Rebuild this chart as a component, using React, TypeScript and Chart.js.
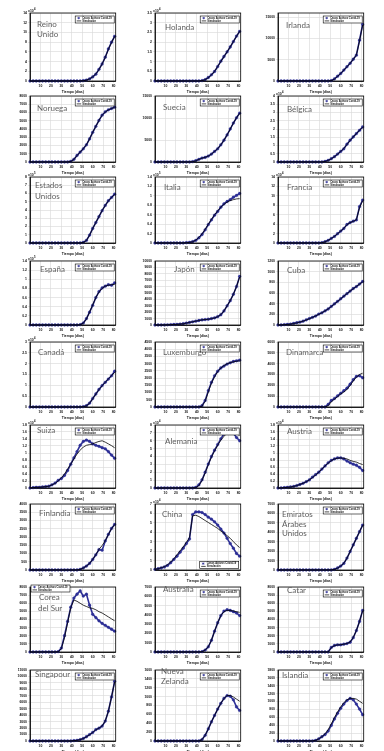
import React, { useEffect, useRef } from "react";
import { Chart, registerables } from "chart.js";
Chart.register(...registerables);

// ---------- data (days and values) ----------
const DAYS = [0, 3, 6, 9, 12, 15, 18, 21, 24, 27, 30, 33, 36, 39, 42, 45, 48, 51, 54, 57, 60, 63, 66, 69, 72, 75, 78, 81];
const X_TICKS = [10, 20, 30, 40, 50, 60, 70, 80];

const ukObs = [0,0,0,0,0,0,0,0,0,0,0,0,0,0,0,0,0, 0.07,0.2,0.42,0.84,1.4,2.4,3.5,4.9,6.6,8.0,9.2];
const ukSim = [0,0,0,0,0,0,0,0,0,0,0,0,0,0,0,0,0, 0.06,0.19,0.45,0.86,1.45,2.35,3.5,4.85,6.5,7.9,9.2];
const nlObs = [0,0,0,0,0,0,0,0,0,0,0,0,0,0,0, 0.02,0.07,0.18,0.32,0.49,0.74,1.02,1.26,1.5,1.75,2.03,2.31,2.55];
const nlSim = [0,0,0,0,0,0,0,0,0,0,0,0,0,0,0, 0.02,0.07,0.17,0.31,0.5,0.75,1.0,1.25,1.5,1.76,2.03,2.3,2.56];
const ieObs = [0,0,0,0,0,0,0,0,0,0,0,0,0,0,0,0,0, 80,480,1120,1760,2560,3360,4160,5120,6080,9600,13300];
const ieSim = [0,0,0,0,0,0,0,0,0,0,0,0,0,0,0,0,0, 70,450,1100,1750,2550,3350,4150,5100,6100,9400,13200];
const noObs = [0,0,0,0,0,0,0,0,0,0,0,0,0, 80,320,800,1200,1600,2080,2800,3600,4320,5040,5680,6080,6320,6480,6640];
const noSim = [0,0,0,0,0,0,0,0,0,0,0,0,0, 70,300,780,1200,1620,2100,2800,3600,4330,5040,5660,6060,6320,6480,6640];
const seObs = [0,0,0,0,0,0,0,0,0,0,0,0, 75,300,600,900,1050,1350,1800,2400,3000,3900,4950,6150,7500,8850,10050,11100];
const seSim = [0,0,0,0,0,0,0,0,0,0,0,0, 70,280,580,880,1060,1360,1800,2400,3020,3900,4950,6150,7480,8850,10050,11100];
const beObs = [0,0,0,0,0,0,0,0,0,0,0,0,0,0,0, 0.04,0.1,0.2,0.32,0.48,0.64,0.8,1.08,1.32,1.52,1.72,1.92,2.12];
const beSim = [0,0,0,0,0,0,0,0,0,0,0,0,0,0,0, 0.03,0.1,0.19,0.32,0.47,0.64,0.82,1.06,1.3,1.52,1.72,1.92,2.12];
const usObs = [0,0,0,0,0,0,0,0,0,0,0,0,0,0,0,0,0, 0.08,0.32,0.96,1.76,2.48,3.2,3.92,4.56,5.12,5.52,5.92];
const usSim = [0,0,0,0,0,0,0,0,0,0,0,0,0,0,0,0,0, 0.07,0.3,0.95,1.75,2.5,3.22,3.92,4.55,5.1,5.52,5.9];
const itObs = [0,0,0,0,0,0,0,0,0,0, 0.007,0.014,0.028,0.056,0.11,0.18,0.28,0.39,0.49,0.59,0.67,0.76,0.83,0.88,0.92,0.97,1.01,1.05];
const itSim = [0,0,0,0,0,0,0,0,0,0, 0.006,0.013,0.027,0.06,0.12,0.19,0.29,0.4,0.5,0.6,0.68,0.76,0.82,0.87,0.9,0.92,0.935,0.94];
const frObs = [0,0,0,0,0,0,0,0,0,0,0,0,0,0, 0.07,0.28,0.56,0.98,1.4,1.96,2.52,3.08,3.92,4.34,4.62,4.9,7.7,9.1];
const frSim = [0,0,0,0,0,0,0,0,0,0,0,0,0,0, 0.06,0.27,0.55,0.97,1.4,1.96,2.52,3.1,3.9,4.3,4.6,4.92,7.5,9.0];
const esObs = [0,0,0,0,0,0,0,0,0,0,0,0,0,0,0,0, 0.007,0.042,0.14,0.28,0.43,0.6,0.73,0.81,0.85,0.88,0.87,0.92];
const esSim = [0,0,0,0,0,0,0,0,0,0,0,0,0,0,0,0, 0.006,0.04,0.13,0.28,0.44,0.6,0.72,0.8,0.85,0.87,0.88,0.89];
const jpObs = [0,0,0,0,30,50,80,100,150,200,300,400,500,600,700,800,850,900,1000,1100,1300,1600,2200,3000,3800,4800,6000,7600];
const jpSim = [0,0,0,0,30,50,80,100,150,200,300,400,500,600,700,800,850,900,1000,1100,1300,1600,2200,3000,3800,4800,6000,7500];
const cuObs = [0,0,6,12,18,30,42,54,72,96,120,144,168,204,228,264,300,348,396,444,492,540,588,636,684,720,768,816];
const cuSim = [0,0,5,10,17,28,40,54,72,94,118,142,170,200,230,264,302,346,394,442,490,540,588,634,680,724,766,808];
const caObs = [0,0,0,0,0,0,0,0,0,0,0,0,0,0,0,0,0, 0.015,0.06,0.18,0.39,0.6,0.81,0.99,1.14,1.29,1.44,1.65];
const caSim = [0,0,0,0,0,0,0,0,0,0,0,0,0,0,0,0,0, 0.012,0.055,0.17,0.38,0.6,0.8,0.98,1.14,1.3,1.45,1.6];
const luObs = [0,0,0,0,0,0,0,0,0,0,0,0,0,0,0, 90,450,1125,1710,2160,2475,2700,2835,2970,3060,3150,3195,3240];
const luSim = [0,0,0,0,0,0,0,0,0,0,0,0,0,0,0, 60,400,1050,1650,2100,2450,2700,2870,2990,3070,3130,3170,3200];
const dkObs = [0,0,0,0,0,0,0,0,0,0,0,0,0,0,0,0, 240,600,780,1020,1260,1500,1740,2100,2520,2820,2880,2700];
const dkSim = [0,0,0,0,0,0,0,0,0,0,0,0,0,0,0,0, 120,480,720,960,1200,1380,1620,1980,2400,2760,3000,3120];
const chObs = [0,0.01,0.02,0.02,0.03,0.04,0.05,0.09,0.14,0.22,0.27,0.36,0.5,0.68,0.86,1.04,1.22,1.33,1.37,1.33,1.26,1.22,1.19,1.15,1.12,1.04,0.94,0.85];
const chSim = [0,0.01,0.02,0.02,0.03,0.04,0.05,0.09,0.13,0.2,0.29,0.4,0.54,0.68,0.83,0.97,1.08,1.17,1.22,1.24,1.26,1.3,1.33,1.35,1.31,1.26,1.21,1.15];
const deObs = [0,0,0,0,0,0,0,0,0,0,0,0,0, 0.08,0.4,1.04,2.0,3.04,4.0,4.8,5.52,6.24,6.88,7.28,7.2,6.96,6.4,6.0];
const deSim = [0,0,0,0,0,0,0,0,0,0,0,0,0, 0.04,0.32,0.96,1.92,2.96,3.92,4.72,5.44,6.08,6.56,6.96,7.2,7.2,6.96,6.64];
const atObs = [0,0,0.01,0.02,0.03,0.045,0.07,0.1,0.135,0.18,0.23,0.31,0.38,0.45,0.54,0.63,0.72,0.79,0.83,0.86,0.86,0.83,0.77,0.72,0.68,0.65,0.59,0.5];
const atSim = [0,0,0.01,0.02,0.03,0.045,0.07,0.1,0.135,0.18,0.23,0.3,0.37,0.45,0.54,0.63,0.71,0.78,0.83,0.85,0.86,0.85,0.83,0.79,0.76,0.74,0.7,0.67];
const fiObs = [0,0,0,0,0,0,0,0,0,0,0,0,0,0,0,0, 40,120,240,400,640,920,1240,1200,1760,2160,2520,2760];
const fiSim = [0,0,0,0,0,0,0,0,0,0,0,0,0,0,0,0, 40,120,240,400,640,930,1250,1480,1770,2150,2500,2760];
const cnObs = [0.07,0.14,0.21,0.32,0.49,0.77,1.12,1.47,1.89,2.31,2.8,3.29,5.88,6.16,6.16,6.09,5.88,5.6,5.39,5.11,4.76,4.34,3.92,3.36,2.8,2.31,1.75,1.47];
const cnSim = [0.07,0.14,0.25,0.35,0.56,0.84,1.19,1.61,2.03,2.45,2.94,3.43,5.74,5.81,5.67,5.46,5.25,5.04,4.83,4.62,4.41,4.13,3.92,3.64,3.36,3.01,2.66,2.38];
const aeObs = [0,0,0,0,0,0,0,0,0,0,0,0,0,0,0,0,0,0, 70,210,420,700,1260,1960,2660,3360,4060,4760];
const aeSim = [0,0,0,0,0,0,0,0,0,0,0,0,0,0,0,0,0,0, 60,200,420,720,1250,1950,2650,3360,4060,4750];
const krObs = [0,0,0,0,0,0,0,0,0, 40,480,2000,3760,5520,6640,7120,7520,6880,7120,5760,4640,4240,3840,3520,3280,3040,2800,2560];
const krSim = [0,0,0,0,0,0,0,0,0, 40,400,1760,3600,5440,6400,6240,6000,5760,5600,5440,5360,5200,4960,4800,4560,4320,4080,3840];
const auObs = [0,0,0,0,0,0,0,0,0,0,0,0,0,0,0, 35,210,560,1260,2240,3150,3920,4410,4550,4480,4340,4200,3920];
const auSim = [0,0,0,0,0,0,0,0,0,0,0,0,0,0,0, 35,210,560,1260,2240,3150,3920,4340,4480,4480,4410,4340,4270];
const qaObs = [0,0,0,0,0,0,0,0,0,0,0,0,0,0,0,0,0, 560,800,880,880,960,1040,1200,1760,2640,3760,5120];
const qaSim = [0,0,0,0,0,0,0,0,0,0,0,0,0,0,0,0,0, 540,790,870,890,960,1050,1220,1780,2650,3760,5100];
const sgObs = [0,0,0,0,0,0,0,0,0,0,0,0,0,0, 55,110,220,385,660,990,1320,1760,1980,2310,3080,4620,6820,9240];
const sgSim = [0,0,0,0,0,0,0,0,0,0,0,0,0,0, 50,110,220,380,650,980,1320,1740,2000,2330,3100,4600,6800,9200];
const nzObs = [0,0,0,0,0,0,0,0,0,0,0,0,0,0,0, 32,128,272,432,576,720,848,960,1024,1008,928,768,688];
const nzSim = [0,0,0,0,0,0,0,0,0,0,0,0,0,0,0, 32,128,272,432,576,720,848,960,1024,1024,992,944,896];
const isObs = [0,0,0,0,0,0,0,0,0,0,0,0, 18,54,108,162,252,396,558,702,828,936,1026,1080,1044,936,810,666];
const isSim = [0,0,0,0,0,0,0,0,0,0,0,0, 18,54,108,180,288,432,594,738,864,972,1044,1080,1080,1062,1008,954];

// ---------- panel setup ----------
type NameLine = [string, number, number];
type PanelCfg = { name: NameLine[]; obs: number[]; sim: number[]; yMax: number; yStep: number; exp?: string; leg: "tr" | "tl" | "br" };

const PANELS: PanelCfg[] = [
  { name: [["Reino", 7, 11], ["Unido", 7, 21]], obs: ukObs, sim: ukSim, yMax: 14, yStep: 2, exp: "4", leg: "tr" },
  { name: [["Holanda", 10, 14]], obs: nlObs, sim: nlSim, yMax: 3.5, yStep: 0.5, exp: "4", leg: "tr" },
  { name: [["Irlanda", 8, 12]], obs: ieObs, sim: ieSim, yMax: 16000, yStep: 5000, leg: "tr" },
  { name: [["Noruega", 7, 12]], obs: noObs, sim: noSim, yMax: 8000, yStep: 1000, leg: "tr" },
  { name: [["Suecia", 8, 11]], obs: seObs, sim: seSim, yMax: 15000, yStep: 5000, leg: "tr" },
  { name: [["Bélgica", 9, 13]], obs: beObs, sim: beSim, yMax: 4, yStep: 0.5, exp: "4", leg: "tr" },
  { name: [["Estados", 5, 8], ["Unidos", 5, 19]], obs: usObs, sim: usSim, yMax: 8, yStep: 1, exp: "5", leg: "tr" },
  { name: [["Italia", 9, 10]], obs: itObs, sim: itSim, yMax: 1.4, yStep: 0.2, exp: "5", leg: "tr" },
  { name: [["Francia", 9, 10]], obs: frObs, sim: frSim, yMax: 14, yStep: 2, exp: "4", leg: "tr" },
  { name: [["España", 10, 8]], obs: esObs, sim: esSim, yMax: 1.4, yStep: 0.2, exp: "5", leg: "tr" },
  { name: [["Japón", 19, 8]], obs: jpObs, sim: jpSim, yMax: 10000, yStep: 1000, leg: "tr" },
  { name: [["Cuba", 9, 9]], obs: cuObs, sim: cuSim, yMax: 1200, yStep: 200, leg: "tr" },
  { name: [["Canadá", 8, 10]], obs: caObs, sim: caSim, yMax: 3, yStep: 0.5, exp: "4", leg: "tr" },
  { name: [["Luxemburgo", 8, 10]], obs: luObs, sim: luSim, yMax: 4500, yStep: 500, leg: "tr" },
  { name: [["Dinamarca", 8, 10]], obs: dkObs, sim: dkSim, yMax: 6000, yStep: 1000, leg: "tr" },
  { name: [["Suiza", 7, 5]], obs: chObs, sim: chSim, yMax: 1.8, yStep: 0.2, exp: "4", leg: "tr" },
  { name: [["Alemania", 10, 16]], obs: deObs, sim: deSim, yMax: 8, yStep: 1, exp: "4", leg: "tr" },
  { name: [["Austria", 9, 6]], obs: atObs, sim: atSim, yMax: 1.8, yStep: 0.2, exp: "4", leg: "tr" },
  { name: [["Finlandia", 9, 9]], obs: fiObs, sim: fiSim, yMax: 4000, yStep: 500, leg: "tr" },
  { name: [["China", 7, 10]], obs: cnObs, sim: cnSim, yMax: 7, yStep: 1, exp: "4", leg: "br" },
  { name: [["Emiratos", 4, 10], ["Árabes", 4, 20], ["Unidos", 4, 29]], obs: aeObs, sim: aeSim, yMax: 7000, yStep: 1000, leg: "tr" },
  { name: [["Corea", 9, 10], ["del Sur", 8, 21]], obs: krObs, sim: krSim, yMax: 8000, yStep: 1000, leg: "tl" },
  { name: [["Australia", 8, 2]], obs: auObs, sim: auSim, yMax: 7000, yStep: 1000, leg: "tr" },
  { name: [["Catar", 9, 3]], obs: qaObs, sim: qaSim, yMax: 8000, yStep: 1000, leg: "tr" },
  { name: [["Singapour", 5, 4]], obs: sgObs, sim: sgSim, yMax: 11000, yStep: 1000, leg: "tr" },
  { name: [["Nueva", 6, 1], ["Zelanda", 6, 11]], obs: nzObs, sim: nzSim, yMax: 1600, yStep: 200, leg: "tr" },
  { name: [["Islandia", 4, 5]], obs: isObs, sim: isSim, yMax: 1800, yStep: 200, leg: "tr" },
];

// ---------- layout ----------
const COL_X = [30, 155, 278];
const ROW_Y = [13, 96, 177, 261, 342, 425, 504, 587, 670];
const ROW_H = [68, 66, 66, 64, 65, 63, 66, 65, 71];
const PLOT_W = 86;
const Y_AXIS_W = 16;
const X_AXIS_H = 13;
const TOP_PAD = 8;
const RIGHT_PAD = 4;
const BLUE = "#2d2f96";
const TICK_FONT = { size: 3.4, weight: "bold" as const, family: "Arial, 'Liberation Sans', sans-serif" };

function fmt(v: number): string {
  return String(Math.round(v * 1000) / 1000);
}

const decorPlugin = {
  id: "decor",
  afterDraw(chart: any, _args: any, opts: any) {
    const { ctx, chartArea } = chart;
    const { left, top, right, bottom } = chartArea;
    ctx.save();
    ctx.strokeStyle = "#000";
    ctx.lineWidth = 0.8;
    ctx.strokeRect(left, top, right - left, bottom - top);
    if (opts.exp) {
      ctx.fillStyle = "#111";
      ctx.textAlign = "left";
      ctx.textBaseline = "alphabetic";
      ctx.font = "bold 3.4px Arial, 'Liberation Sans', sans-serif";
      ctx.fillText("x10", left - 2, top - 1.5);
      ctx.font = "bold 2.7px Arial, 'Liberation Sans', sans-serif";
      ctx.fillText(opts.exp, left + 4, top - 3.3);
    }
    ctx.fillStyle = "#5e5e5e";
    ctx.font = "8px Lato, 'Open Sans', sans-serif";
    ctx.textAlign = "left";
    ctx.textBaseline = "middle";
    for (const [t, dx, dy] of opts.name as NameLine[]) {
      ctx.fillText(t, left + dx, top + dy);
    }
    const W = 39, H = 7;
    let lx = right - W - 1.5, ly = top + 3;
    if (opts.leg === "tl") { lx = left + 1; ly = top - 2; }
    if (opts.leg === "br") { lx = right - W - 2; ly = bottom - H - 1.5; }
    ctx.fillStyle = "#fff";
    ctx.fillRect(lx, ly, W, H);
    ctx.strokeStyle = "#000";
    ctx.lineWidth = 0.6;
    ctx.strokeRect(lx, ly, W, H);
    ctx.strokeStyle = BLUE;
    ctx.lineWidth = 0.6;
    const mx = lx + 3.5, my = ly + 2.1;
    ctx.beginPath();
    ctx.moveTo(mx - 1.2, my); ctx.lineTo(mx + 1.2, my);
    ctx.moveTo(mx, my - 1.2); ctx.lineTo(mx, my + 1.2);
    ctx.moveTo(mx - 0.9, my - 0.9); ctx.lineTo(mx + 0.9, my + 0.9);
    ctx.moveTo(mx - 0.9, my + 0.9); ctx.lineTo(mx + 0.9, my - 0.9);
    ctx.stroke();
    ctx.strokeStyle = "#000";
    ctx.lineWidth = 0.7;
    ctx.beginPath();
    ctx.moveTo(lx + 1.5, ly + 4.9); ctx.lineTo(lx + 6, ly + 4.9);
    ctx.stroke();
    ctx.fillStyle = "#111";
    ctx.font = "bold 2.6px Arial, 'Liberation Sans', sans-serif";
    ctx.textBaseline = "middle";
    ctx.fillText("Casos Activos Covid-19", lx + 7, ly + 2.1);
    ctx.fillText("Simulación", lx + 7, ly + 4.9);
    ctx.restore();
  },
};

function Panel({ cfg, index }: { cfg: PanelCfg; index: number }) {
  const ref = useRef<HTMLCanvasElement>(null);
  const col = index % 3;
  const row = Math.floor(index / 3);
  const plotH = ROW_H[row];
  const w = PLOT_W + Y_AXIS_W + RIGHT_PAD;
  const h = plotH + TOP_PAD + X_AXIS_H;
  useEffect(() => {
    if (!ref.current) return;
    const yTicks: number[] = [];
    for (let k = 0; k * cfg.yStep <= cfg.yMax + 1e-9; k++) yTicks.push(k * cfg.yStep);
    const chart = new Chart(ref.current, {
      type: "line",
      data: {
        datasets: [
          {
            label: "Casos Activos Covid-19",
            data: DAYS.map((d, i) => ({ x: d, y: cfg.obs[i] })),
            showLine: true,
            borderColor: BLUE,
            borderWidth: 1.6,
            pointRadius: 1.4,
            pointStyle: "circle",
            pointBackgroundColor: BLUE,
            pointBorderColor: BLUE,
            pointBorderWidth: 0.3,
            tension: 0,
            order: 1,
            clip: 4,
          },
          {
            label: "Simulación",
            data: DAYS.map((d, i) => ({ x: d, y: cfg.sim[i] })),
            borderColor: "#000",
            borderWidth: 0.8,
            pointRadius: 0,
            tension: 0,
            order: 0,
            clip: 2,
          },
        ],
      },
      options: {
        animation: false,
        responsive: false,
        devicePixelRatio: 1,
        events: [],
        layout: { padding: { top: TOP_PAD, right: RIGHT_PAD, left: 0, bottom: 0 } },
        plugins: {
          legend: { display: false },
          tooltip: { enabled: false },
          decor: { name: cfg.name, exp: cfg.exp, leg: cfg.leg },
        } as any,
        scales: {
          x: {
            type: "linear",
            min: 0,
            max: 82,
            afterFit: (s: any) => { s.height = X_AXIS_H; },
            afterBuildTicks: (s: any) => { s.ticks = X_TICKS.map((v) => ({ value: v })); },
            ticks: { font: TICK_FONT, color: "#111", padding: 1, maxRotation: 0, autoSkip: false, callback: (v: any) => fmt(Number(v)) },
            grid: { color: "#d6d6d6", lineWidth: 0.6, tickLength: 2 },
            border: { color: "#000", width: 0.8 },
            title: {
              display: true,
              text: "Tiempo (días)",
              color: "#111",
              font: TICK_FONT,
              padding: { top: 1, bottom: 0 },
            },
          },
          y: {
            type: "linear",
            min: 0,
            max: cfg.yMax,
            afterFit: (s: any) => { s.width = Y_AXIS_W; },
            afterBuildTicks: (s: any) => { s.ticks = yTicks.map((v) => ({ value: v })); },
            ticks: { font: TICK_FONT, color: "#111", padding: 1, autoSkip: false, callback: (v: any) => fmt(Number(v)) },
            grid: { color: "#d6d6d6", lineWidth: 0.6, tickLength: 2 },
            border: { color: "#000", width: 0.8 },
          },
        },
      },
      plugins: [decorPlugin],
    } as any);
    return () => chart.destroy();
  }, [cfg]);
  return (
    <canvas
      ref={ref}
      width={w}
      height={h}
      style={{
        position: "absolute",
        left: COL_X[col] - Y_AXIS_W,
        top: ROW_Y[row] - TOP_PAD,
        width: w,
        height: h,
      }}
    />
  );
}

export default function App() {
  return (
    <div style={{ position: "absolute", left: 0, top: 0, width: 384, height: 751, background: "#fff", overflow: "hidden" }}>
      {PANELS.map((p, i) => (
        <Panel key={i} cfg={p} index={i} />
      ))}
    </div>
  );
}
